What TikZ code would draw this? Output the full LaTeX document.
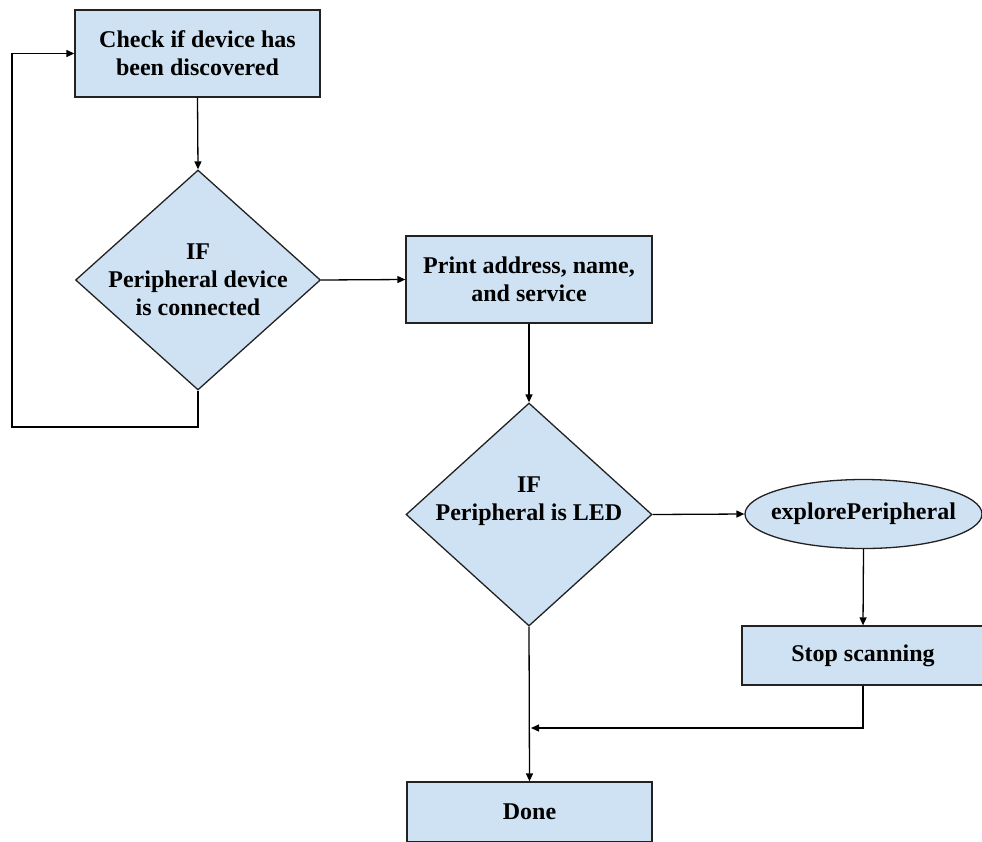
\documentclass[tikz,border=0pt]{standalone}
\usepackage{fontspec}
\setmainfont{Liberation Serif}[BoldFont={Liberation Serif Bold}]
\newfontfamily\diagfont{Liberation Serif Bold}
\usetikzlibrary{shapes.geometric,arrows.meta}
\definecolor{boxfill}{HTML}{CFE2F3}
\definecolor{edge}{HTML}{222222}
\tikzset{
  shapebase/.style={draw=edge, fill=boxfill, line width=1.3pt, inner sep=0pt},
  procbox/.style={shapebase, rectangle, align=center, font=\diagfont\fontsize{24}{28}\selectfont},
  diashape/.style={shapebase, diamond},
  ellshape/.style={shapebase, ellipse},
  lbl/.style={align=center, inner sep=0pt, font=\diagfont\fontsize{24}{28}\selectfont},
  arr/.style={draw=black, line width=1.3pt, -{Triangle[length=8pt,width=7pt]}},
  ln/.style={draw=black, line width=1.3pt}
}
\begin{document}
\begin{tikzpicture}[x=1pt,y=-1pt]
\useasboundingbox (0,0) rectangle (982,841);
\begin{scope}
\clip (0,0) rectangle (982,841);
\node[procbox, minimum width=245pt, minimum height=87pt] (b1) at (197.5,53.5) {Check if device has\\been discovered};
\node[diashape, minimum width=245pt, minimum height=220pt] (d1) at (198,280) {};
\node[lbl] (d1t) at (198,280) {IF\\Peripheral device\\is connected};
\node[procbox, minimum width=246pt, minimum height=87pt] (b2) at (529,279.5) {Print address, name,\\and service};
\node[diashape, minimum width=246pt, minimum height=223pt] (d2) at (529,514.5) {};
\node[lbl] (d2t) at (529,501) {IF\\Peripheral is LED};
\node[ellshape, minimum width=237pt, minimum height=69pt] (el) at (863.5,514) {};
\node[lbl] (elt) at (863.5,514) {explorePeripheral};
\node[procbox, minimum width=242pt, minimum height=59pt] (st) at (863,655.5) {Stop scanning};
\node[procbox, minimum width=245pt, minimum height=60pt] (dn) at (529.5,812) {Done};
\end{scope}
\coordinate (lb) at (12,427);
\coordinate (m) at (531,728);
\draw[arr] (b1.south) -- (d1.north);
\draw[arr] (d1.east) -- (b2.west);
\draw[arr] (d1.south) |- (lb) |- (b1.west);
\draw[arr] (b2.south) -- (d2.north);
\draw[arr] (d2.east) -- (el.west);
\draw[arr] (el.south) -- (st.north);
\draw[arr] (st.south) |- (m);
\draw[arr] (d2.south) -- (dn.north);
\end{tikzpicture}
\end{document}
